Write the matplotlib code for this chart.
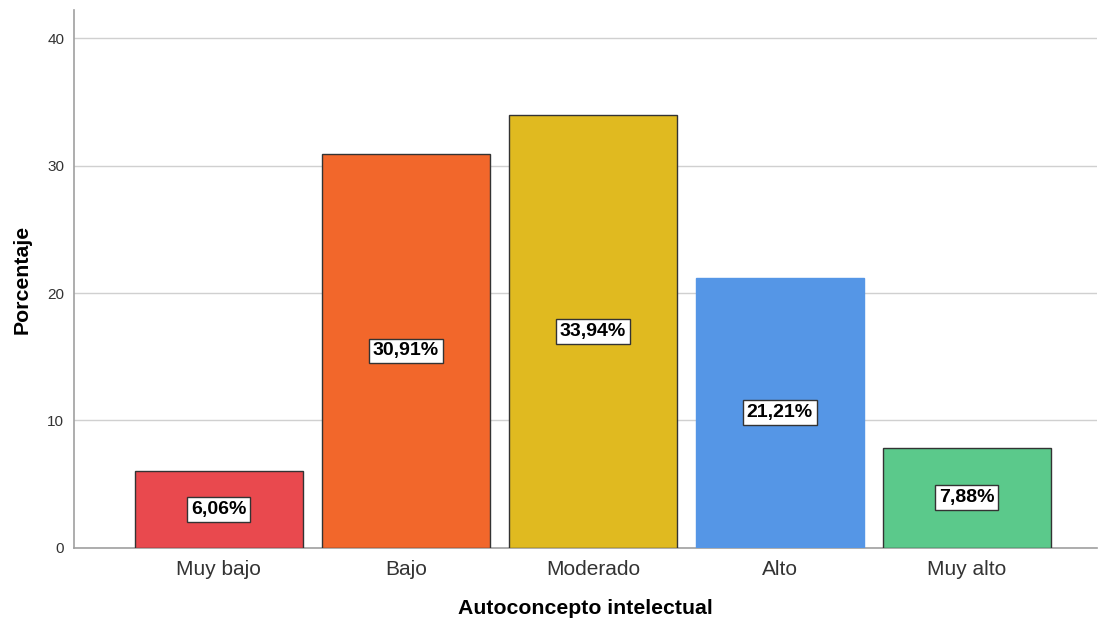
import matplotlib
matplotlib.use("Agg")
import matplotlib.pyplot as plt

categories = ["Muy bajo", "Bajo", "Moderado", "Alto", "Muy alto"]
percentages = [6.06, 30.91, 33.94, 21.21, 7.88]
bar_colors = ["#E9494E", "#F2672B", "#E0BA20", "#5596E6", "#5BC98B"]
edge_colors = ["#333333", "#333333", "#333333", "#5596E6", "#333333"]

plt.rcParams["font.family"] = ["Liberation Sans", "DejaVu Sans"]

fig = plt.figure(figsize=(10.99, 6.18), dpi=100)
ax = fig.add_axes([0.0673, 0.1133, 0.9307, 0.8705])

x = list(range(len(categories)))
ax.bar(x, percentages, width=0.9, color=bar_colors, edgecolor=edge_colors,
       linewidth=1.0, zorder=3)

for xi, val in zip(x, percentages):
    ax.text(xi, val / 2, f"{val:.2f}%".replace(".", ","), ha="center", va="center",
            fontsize=14, fontweight="bold", color="black", zorder=4,
            bbox=dict(boxstyle="square,pad=0.2", facecolor="white",
                      edgecolor="#333333", linewidth=1.0))

ax.set_xlim(-0.775, 4.695)
ax.set_ylim(0, 42.2)
ax.set_yticks([0, 10, 20, 30, 40])
ax.set_xticks(x)
ax.set_xticklabels(categories)
ax.yaxis.grid(True, color="#D0D0D0", linewidth=1.0, zorder=0)
ax.set_axisbelow(True)

for side in ["top", "right"]:
    ax.spines[side].set_visible(False)
ax.spines["left"].set_color("#A0A0A0")
ax.spines["bottom"].set_color("#A0A0A0")
ax.spines["left"].set_linewidth(1.2)
ax.spines["bottom"].set_linewidth(1.2)

ax.tick_params(axis="x", length=0, labelsize=15, colors="#333333", pad=9)
ax.tick_params(axis="y", length=0, labelsize=11, colors="#333333", pad=7)

ax.set_xlabel("Autoconcepto intelectual", fontsize=15.3, fontweight="bold", labelpad=14)
ax.set_ylabel("Porcentaje", fontsize=15.3, fontweight="bold")
ax.yaxis.set_label_coords(-0.041, 0.5)

fig.savefig("out.png", dpi=100)
